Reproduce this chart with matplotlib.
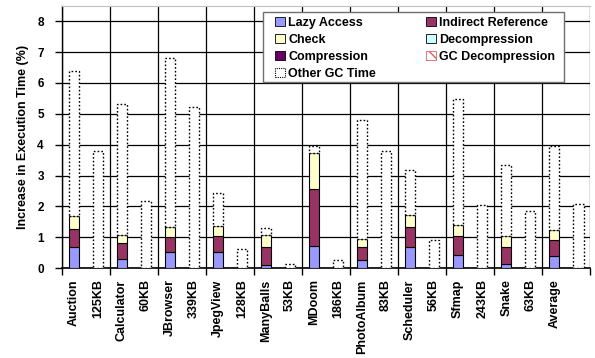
import numpy as np
import matplotlib.pyplot as plt
from matplotlib.patches import Patch, Rectangle

plt.rcParams['font.family'] = ['Liberation Sans', 'DejaVu Sans']
plt.rcParams['font.weight'] = 'bold'

benchmarks = ['Auction', 'Calculator', 'JBrowser', 'JpegView', 'ManyBalls', 'MDoom',
              'PhotoAlbum', 'Scheduler', 'Sfmap', 'Snake', 'Average']
heap_sizes = ['125KB', '60KB', '339KB', '128KB', '53KB', '186KB',
              '83KB', '56KB', '243KB', '63KB', '']

# breakdown of the overhead (%)
lazy_access = [0.69, 0.28, 0.53, 0.53, 0.09, 0.73, 0.25, 0.69, 0.43, 0.15, 0.38]
indirect_ref = [0.59, 0.52, 0.48, 0.52, 0.60, 1.82, 0.44, 0.63, 0.60, 0.53, 0.53]
check = [0.40, 0.27, 0.33, 0.32, 0.39, 1.18, 0.26, 0.40, 0.36, 0.36, 0.34]
compression = [0.0] * 11
decompression = [0.0] * 11
gc_decompression = [0.0] * 11
other_gc = [4.72, 4.26, 5.48, 1.08, 0.22, 0.23, 3.84, 1.45, 4.08, 2.29, 2.72]

# GC time alone with the smaller heap
other_gc_small = [3.81, 2.17, 5.23, 0.62, 0.15, 0.26, 3.79, 0.92, 2.04, 1.85, 2.07]

colors = {
    'Lazy Access': '#9999FF',
    'Indirect Reference': '#993366',
    'Check': '#FFFFCC',
    'Compression': '#660066',
    'Decompression': '#CCFFFF',
    'GC Decompression': '#FFCCCC',
}

fig = plt.figure(figsize=(5.95, 3.58), dpi=100)
ax = fig.add_axes([0.104, 0.251, 0.888, 0.733])

n = len(benchmarks)
x1 = np.arange(n) * 2
x2 = x1 + 1
w = 0.44

bottom = np.zeros(n)
segments = [('Lazy Access', lazy_access), ('Indirect Reference', indirect_ref),
            ('Check', check), ('Compression', compression),
            ('Decompression', decompression), ('GC Decompression', gc_decompression)]
for name, vals in segments:
    vals = np.array(vals)
    ax.bar(x1, vals, w, bottom=bottom, color=colors[name],
           edgecolor='black', linewidth=0.8 if vals.any() else 0, zorder=3)
    bottom += vals

ax.bar(x1, other_gc, w, bottom=bottom, color='white', edgecolor='black',
       linewidth=1.0, linestyle=(0, (1.2, 1.5)), zorder=3)
ax.bar(x2, other_gc_small, w, color='white', edgecolor='black',
       linewidth=1.0, linestyle=(0, (1.2, 1.5)), zorder=3)

ax.set_xlim(-0.5, 2 * n - 0.5)
ax.set_ylim(0, 8.5)
ax.set_yticks(range(9))
ax.tick_params(axis='y', labelsize=8.5, length=5, width=1, direction='out', pad=8)

labels = []
for b, s in zip(benchmarks, heap_sizes):
    labels += [b, s]
ax.set_xticks(np.arange(2 * n))
ax.set_xticklabels(labels, rotation=90, fontsize=9, fontweight='bold')
ax.tick_params(axis='x', which='major', length=0, pad=8)
ax.set_xticks(np.arange(n + 1) * 2 - 0.5, minor=True)
ax.tick_params(axis='x', which='minor', length=5, width=1, direction='out')

ax.grid(True, axis='y', color='black', linewidth=0.9, zorder=0)
ax.grid(True, axis='x', which='minor', color='black', linewidth=0.9, zorder=0)
ax.grid(False, axis='x', which='major')
ax.set_axisbelow(True)

ax.spines['left'].set_linewidth(1)
ax.spines['bottom'].set_linewidth(1.2)
ax.spines['top'].set_color('#c0c0c0')
ax.spines['right'].set_visible(False)

ax.set_ylabel('Increase in Execution Time (%)', fontsize=9, fontweight='bold', labelpad=6)

# legend box drawn separately so the padding can be set freely
ax.add_patch(Rectangle((0.380, 0.710), 0.571, 0.267, transform=ax.transAxes,
                       facecolor='white', edgecolor='#707070', linewidth=1.0,
                       zorder=4, clip_on=False))

handles = [
    Patch(facecolor=colors['Lazy Access'], edgecolor='black', linewidth=0.6),
    Patch(facecolor=colors['Check'], edgecolor='black', linewidth=0.6),
    Patch(facecolor=colors['Compression'], edgecolor='black', linewidth=0.6),
    Patch(facecolor='white', edgecolor='black', linewidth=0.8, linestyle=(0, (1, 1))),
    Patch(facecolor=colors['Indirect Reference'], edgecolor='black', linewidth=0.6),
    Patch(facecolor=colors['Decompression'], edgecolor='black', linewidth=0.6),
    Patch(facecolor='white', edgecolor='#E06060', hatch='\\\\\\', linewidth=0.6),
]
names = ['Lazy Access', 'Check', 'Compression', 'Other GC Time',
         'Indirect Reference', 'Decompression', 'GC Decompression']
leg = ax.legend(handles, names, ncol=2, loc='upper left',
                bbox_to_anchor=(0.404, 0.957), frameon=False,
                borderpad=0, borderaxespad=0, labelspacing=0.4,
                handlelength=0.75, handleheight=0.75, handletextpad=0.3,
                columnspacing=4.0, prop={'size': 9, 'weight': 'bold'})
leg.set_zorder(5)

fig.savefig('out.png', dpi=100)
